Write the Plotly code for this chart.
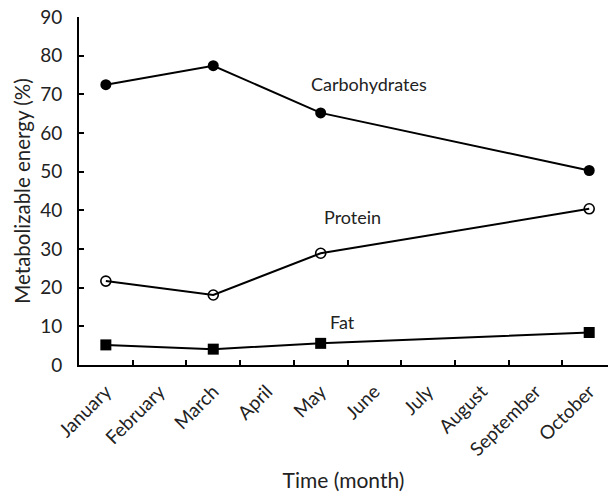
import plotly.graph_objects as go

months = ["January", "February", "March", "April", "May", "June",
          "July", "August", "September", "October"]
sample_months = ["January", "March", "May", "October"]
carbohydrates = [72.5, 77.4, 65.2, 50.3]
protein = [21.7, 18.1, 28.9, 40.4]
fat = [5.2, 4.1, 5.6, 8.4]

FONT = "Lato, Carlito, Calibri, sans-serif"

fig = go.Figure()
fig.add_trace(go.Scatter(
    x=sample_months, y=carbohydrates, mode="lines+markers", name="Carbohydrates",
    line=dict(color="black", width=2),
    marker=dict(symbol="circle", size=11, color="black")))
fig.add_trace(go.Scatter(
    x=sample_months, y=protein, mode="lines+markers", name="Protein",
    line=dict(color="black", width=2),
    marker=dict(symbol="circle-open", size=10, color="black", line=dict(width=1.6))))
fig.add_trace(go.Scatter(
    x=sample_months, y=fat, mode="lines+markers", name="Fat",
    line=dict(color="black", width=2),
    marker=dict(symbol="square", size=11, color="black")))

labels = [("Carbohydrates", 4.9, 72.7), ("Protein", 4.59, 38.4), ("Fat", 4.40, 11.1)]
for text, x, y in labels:
    fig.add_annotation(x=x, y=y, xref="x", yref="y", text=text, showarrow=False,
                       font=dict(family=FONT, size=18, color="#222"))

fig.update_layout(
    width=608, height=493,
    margin=dict(l=79, r=0, t=17, b=128),
    plot_bgcolor="white", paper_bgcolor="white",
    showlegend=False,
    font=dict(family=FONT, color="#222"),
)
fig.update_xaxes(
    type="category", categoryorder="array", categoryarray=months,
    tickmode="array", tickvals=months, ticktext=months,
    range=[-0.5, 9.35], tickson="boundaries",
    showline=True, linecolor="black", linewidth=2,
    ticks="inside", ticklen=5, tickwidth=2, tickcolor="black",
    tickangle=-45, tickfont=dict(family=FONT, size=19, color="#222"),
    ticklabelstandoff=6, ticklabeloverflow="allow",
    showgrid=False, zeroline=False, automargin=False,
    title=dict(text="Time (month)", font=dict(family=FONT, size=21, color="#222"), standoff=14),
)
fig.update_yaxes(
    range=[0, 90], tickvals=list(range(0, 91, 10)),
    showline=True, linecolor="black", linewidth=2,
    ticks="inside", ticklen=5, tickwidth=2, tickcolor="black",
    tickfont=dict(family=FONT, size=19, color="#222"),
    ticklabelstandoff=11, ticklabeloverflow="allow",
    showgrid=False, zeroline=False, automargin=False,
    title=dict(text="Metabolizable energy (%)", font=dict(family=FONT, size=20.5, color="#222"), standoff=4),
)

fig.write_html("out.html", config={"displayModeBar": False},
               post_script="document.body.style.margin='0';")
